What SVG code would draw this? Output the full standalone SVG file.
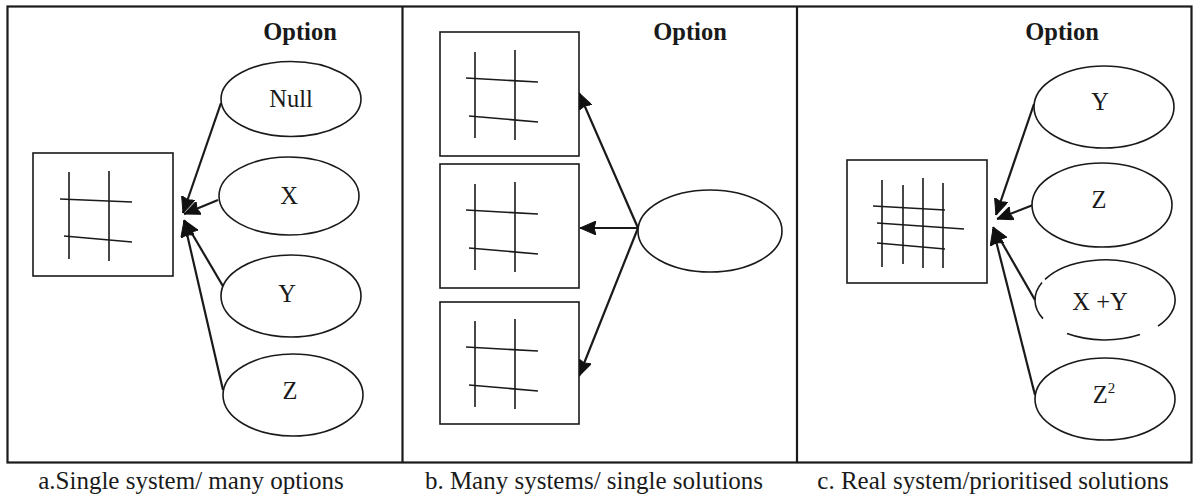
<svg xmlns="http://www.w3.org/2000/svg" width="1193" height="496" viewBox="0 0 1193 496">
<style>
.frame{fill:none;stroke:#1a1a1a;stroke-width:2.2}
.box{fill:#fff;stroke:#1a1a1a;stroke-width:1.6}
.grid{stroke:#1a1a1a;stroke-width:1.6;fill:none}
.ell{fill:#fff;stroke:#1a1a1a;stroke-width:1.6}
.arc{fill:none;stroke:#1a1a1a;stroke-width:1.6}
.con{stroke:#1a1a1a;stroke-width:2.2;fill:none;marker-end:url(#ah)}
text{font-family:'Liberation Serif','Times New Roman','DejaVu Serif',serif;fill:#1a1a1a;text-anchor:middle}
.lbl{font-size:24.5px}
.hd{font-size:24.5px;font-weight:bold}
.cap{font-size:25px}
</style>
<defs>
<marker id="ah" viewBox="0 0 16 14" refX="16" refY="7" markerWidth="16" markerHeight="14" orient="auto" markerUnits="userSpaceOnUse">
<path d="M0,0 L16,7 L0,14 L2,7 z" fill="#111" stroke="#111" stroke-width="1"/>
</marker>
</defs>
<rect width="1193" height="496" fill="#fff"/>
<g id="frame">
<rect class="frame" x="7.5" y="6.5" width="1184" height="456"/>
<line class="frame" x1="402.5" y1="6.5" x2="402.5" y2="462.5"/>
<line class="frame" x1="797" y1="6.5" x2="797" y2="462.5"/>
</g>
<g id="headings">
<text class="hd" x="300" y="40">Option</text>
<text class="hd" x="690" y="40">Option</text>
<text class="hd" x="1062" y="40">Option</text>
</g>
<g id="captions">
<text class="cap" x="191" y="489">a.Single system/ many options</text>
<text class="cap" x="594" y="489">b. Many systems/ single solutions</text>
<text class="cap" x="993" y="489">c. Real system/prioritised solutions</text>
</g>
<g id="connectors">
<line class="con" x1="221" y1="103" x2="183" y2="213"/>
<line class="con" x1="218" y1="200" x2="184" y2="214"/>
<line class="con" x1="227" y1="293" x2="184" y2="220"/>
<line class="con" x1="223" y1="390" x2="184" y2="221"/>
<line class="con" x1="638" y1="228" x2="579" y2="93"/>
<line class="con" x1="638" y1="228" x2="580" y2="228"/>
<line class="con" x1="638" y1="228" x2="579" y2="376"/>
<line class="con" x1="1034" y1="104" x2="996" y2="215"/>
<line class="con" x1="1033" y1="205" x2="997" y2="219"/>
<line class="con" x1="1035" y1="300" x2="993" y2="227"/>
<line class="con" x1="1035" y1="395" x2="993" y2="229"/>
</g>
<g id="a-system">
<rect class="box" x="33" y="153" width="140" height="123"/>
<line class="grid" x1="69" y1="172" x2="69" y2="259"/>
<line class="grid" x1="109" y1="171" x2="109" y2="261"/>
<line class="grid" x1="60" y1="199" x2="132" y2="202"/>
<line class="grid" x1="64" y1="236" x2="132" y2="242"/>
</g>
<g id="a-null"><ellipse class="ell" cx="291" cy="99" rx="70" ry="37.5"/><text class="lbl" x="291" y="107">Null</text></g>
<g id="a-x"><ellipse class="ell" cx="289" cy="196" rx="70" ry="39"/><text class="lbl" x="289" y="204">X</text></g>
<g id="a-y"><ellipse class="ell" cx="291" cy="296" rx="70" ry="41"/><text class="lbl" x="287" y="302">Y</text></g>
<g id="a-z"><ellipse class="ell" cx="293" cy="395" rx="70" ry="41"/><text class="lbl" x="290" y="399">Z</text></g>
<g id="b-system1">
<rect class="box" x="440" y="32" width="139" height="124"/>
<line class="grid" x1="475" y1="52" x2="475" y2="138"/>
<line class="grid" x1="515" y1="50" x2="515" y2="140"/>
<line class="grid" x1="466" y1="78" x2="538" y2="82"/>
<line class="grid" x1="469" y1="116" x2="538" y2="122"/>
</g>
<g id="b-system2">
<rect class="box" x="440" y="164" width="139" height="124"/>
<line class="grid" x1="475" y1="184" x2="475" y2="270"/>
<line class="grid" x1="515" y1="182" x2="515" y2="272"/>
<line class="grid" x1="466" y1="210" x2="538" y2="214"/>
<line class="grid" x1="469" y1="248" x2="538" y2="254"/>
</g>
<g id="b-system3">
<rect class="box" x="440" y="302" width="139" height="122"/>
<line class="grid" x1="475" y1="321" x2="475" y2="407"/>
<line class="grid" x1="515" y1="319" x2="515" y2="409"/>
<line class="grid" x1="466" y1="347" x2="538" y2="351"/>
<line class="grid" x1="469" y1="385" x2="538" y2="391"/>
</g>
<g id="b-option"><ellipse class="ell" cx="710" cy="231" rx="72" ry="41"/></g>
<g id="c-system">
<rect class="box" x="847" y="160" width="140" height="123"/>
<line class="grid" x1="882" y1="180" x2="882" y2="267"/>
<line class="grid" x1="903" y1="185" x2="903" y2="264"/>
<line class="grid" x1="923" y1="178" x2="923" y2="268"/>
<line class="grid" x1="943" y1="183" x2="943" y2="268"/>
<line class="grid" x1="873" y1="206" x2="945" y2="210"/>
<line class="grid" x1="877" y1="223" x2="964" y2="229"/>
<line class="grid" x1="877" y1="243" x2="945" y2="249"/>
</g>
<g id="c-y"><ellipse class="ell" cx="1104" cy="107" rx="70" ry="41"/><text class="lbl" x="1100" y="110">Y</text></g>
<g id="c-z"><ellipse class="ell" cx="1102" cy="205" rx="70" ry="42"/><text class="lbl" x="1099" y="208">Z</text></g>
<g id="c-xy">
<path class="arc" d="M1045,279.4 A70,40 0 1 1 1158,326.1"/>
<path class="arc" d="M1042,282.6 A70,40 0 0 0 1043,318.6"/>
<path class="arc" d="M1067,333.6 A70,40 0 0 0 1140,334.6"/>
<text class="lbl" x="1100" y="310">X +Y</text>
</g>
<g id="c-z2"><ellipse class="ell" cx="1105" cy="399" rx="70" ry="41"/><text class="lbl" x="1104" y="403">Z<tspan font-size="15" dy="-10">2</tspan></text></g>
</svg>
